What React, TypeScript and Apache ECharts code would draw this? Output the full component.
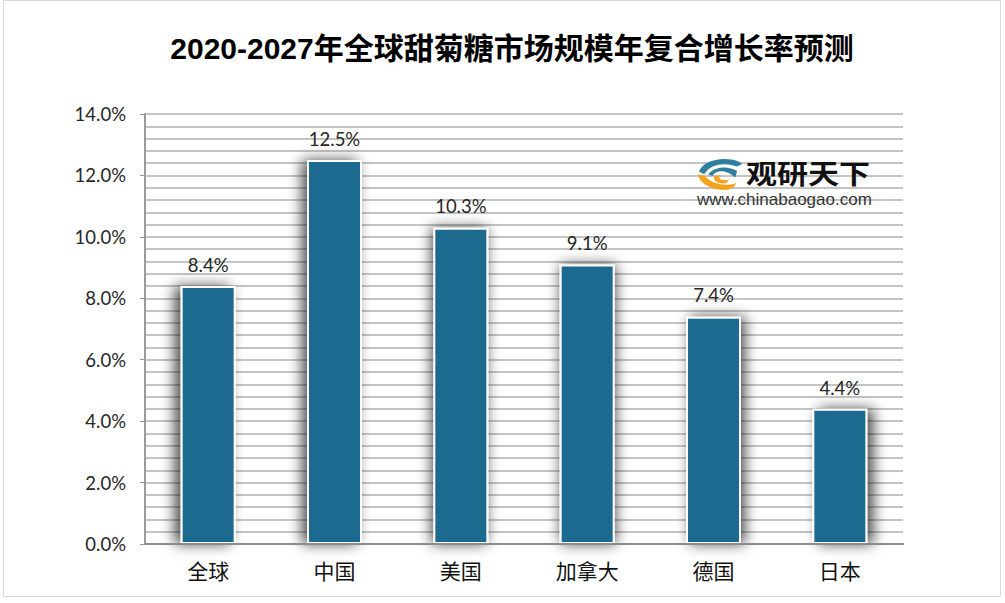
import React, { useEffect, useRef } from "react";
import * as echarts from "echarts";

const titleText = "2020-2027年全球甜菊糖市场规模年复合增长率预测";
const categories = ["全球", "中国", "美国", "加拿大", "德国", "日本"];
const growthRates = [8.4, 12.5, 10.3, 9.1, 7.4, 4.4];
const logoName = "观研天下";
const logoUrl = "www.chinabaogao.com";

const latinCjk = '"Noto Sans CJK SC", "Open Sans", sans-serif';
const labelFont = 'Lato, "Noto Sans CJK SC", sans-serif';

const blueD =
  "M1 16C4 5 18 -1 34 2C38 3 41 5 43 7L38 10C28 5 12 6 6 19ZM10 19C16 9 30 9 38 15L36 23C30 15 18 12 14 21Z";
const orangeD =
  "M0 19C1 30 14 38 28 37C33 36 36 33 37 29C30 33 14 32 7 21ZM16 21C14 27 20 31 28 29L30 25C25 27 19 25 21 20Z";
echarts.graphic.registerShape("logoBlue", echarts.graphic.extendPath(blueD, {}) as any);
echarts.graphic.registerShape("logoOrange", echarts.graphic.extendPath(orangeD, {}) as any);

export default function App() {
  const ref = useRef<HTMLDivElement>(null);
  useEffect(() => {
    const chart = echarts.init(ref.current!, undefined, { renderer: "svg" });
    const shadowShift = [-6, -5, -2, 1, 4, 6];
    chart.setOption({
      animation: false,
      backgroundColor: "#ffffff",
      title: {
        text: titleText,
        left: 507,
        top: 28,
        textAlign: "center",
        textStyle: {
          fontFamily: '"Liberation Sans", "Noto Sans CJK SC", sans-serif',
          fontSize: 30,
          fontWeight: "bold",
          color: "#000000",
        },
      },
      grid: { left: 145, top: 114, width: 758, height: 430, containLabel: false },
      xAxis: {
        type: "category",
        data: categories,
        axisTick: { show: false },
        axisLine: { show: true, lineStyle: { color: "#8c8c8c", width: 2 } },
        axisLabel: { fontFamily: latinCjk, fontSize: 21, color: "#111111", margin: 15 },
        z: 5,
      },
      yAxis: {
        type: "value",
        min: 0,
        max: 14,
        interval: 2,
        axisLine: { show: true, lineStyle: { color: "#9a9a9a", width: 2 } },
        axisTick: { show: true, length: 5, lineStyle: { color: "#9a9a9a", width: 1 } },
        axisLabel: {
          formatter: (v: number) => v.toFixed(1) + "%",
          fontFamily: labelFont,
          fontSize: 18.5,
          color: "#262626",
          margin: 19,
        },
        splitLine: { show: true, lineStyle: { color: "#c4c4c4", width: 2 } },
        minorTick: { show: false, splitNumber: 5 },
        minorSplitLine: { show: true, lineStyle: { color: "#c4c4c4", width: 2 } },
      },
      series: [
        {
          type: "bar",
          data: growthRates.map((value, i) => ({
            value,
            itemStyle: { shadowOffsetX: shadowShift[i] },
          })),
          barWidth: 55,
          itemStyle: {
            color: "#1b6a8f",
            borderColor: "#ffffff",
            borderWidth: 2,
            shadowColor: "rgba(0,0,0,0.7)",
            shadowBlur: 14,
            shadowOffsetY: 0,
          },
          label: {
            show: true,
            position: "top",
            distance: 12,
            formatter: (p: any) => Number(p.value).toFixed(1) + "%",
            fontFamily: labelFont,
            fontSize: 18.5,
            color: "#262626",
          },
        },
      ],
      graphic: [
        {
          type: "rect",
          shape: { x: 3.5, y: 0.5, width: 997, height: 596 },
          style: { fill: "none", stroke: "#d9d9d9", lineWidth: 1 },
          z: 0,
        },
        { type: "logoBlue", x: 698, y: 158, scaleX: 1.03, scaleY: 0.86, style: { fill: "#2f7f9e" }, z: 10 },
        { type: "logoOrange", x: 698, y: 158, scaleX: 1.03, scaleY: 0.86, style: { fill: "#f5a31e" }, z: 10 },
        {
          type: "text",
          x: 746,
          y: 158,
          scaleX: 1.15,
          style: {
            text: logoName,
            fontFamily: latinCjk,
            fontSize: 27,
            fontWeight: "bold",
            fill: "#111111",
          },
          z: 10,
        },
        {
          type: "text",
          x: 697,
          y: 191,
          style: {
            text: logoUrl,
            fontFamily: '"Liberation Sans", sans-serif',
            fontSize: 17,
            fill: "#333333",
          },
          z: 10,
        },
      ],
    });
    return () => chart.dispose();
  }, []);
  return (
    <div
      ref={ref}
      style={{ position: "absolute", left: 0, top: 0, width: 1005, height: 603 }}
    />
  );
}
